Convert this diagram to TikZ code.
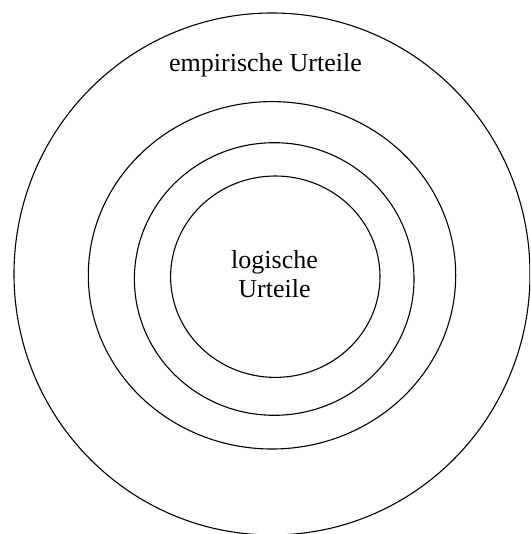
\documentclass[tikz,border=0pt]{standalone}
\usepackage{fontspec}
\setmainfont{Liberation Serif}
\usetikzlibrary{positioning}

\begin{document}
\begin{tikzpicture}[
    x=1pt, y=-1pt,
    ring/.style={draw=black, line width=1.1pt},
    label/.style={font=\fontsize{26}{29}\selectfont, align=center, inner sep=0pt}
]

% Canvas
\clip (0,0) rectangle (530,534);

% Nested spheres of judgement, outermost first
\draw[ring] (272,274) ellipse (258 and 261);
\draw[ring] (272,275.3) ellipse (183.7 and 173.7);
\draw[ring] (274.2,279) ellipse (139.8 and 136.3);
\draw[ring] (275.3,276.7) ellipse (104.7 and 100.7);

% Labels
\node[label, anchor=base] (empirical) at (265.5,71.7) {empirische Urteile};
\node[label] (logical) at (274.5,273.9) {logische\\Urteile};

\end{tikzpicture}
\end{document}
